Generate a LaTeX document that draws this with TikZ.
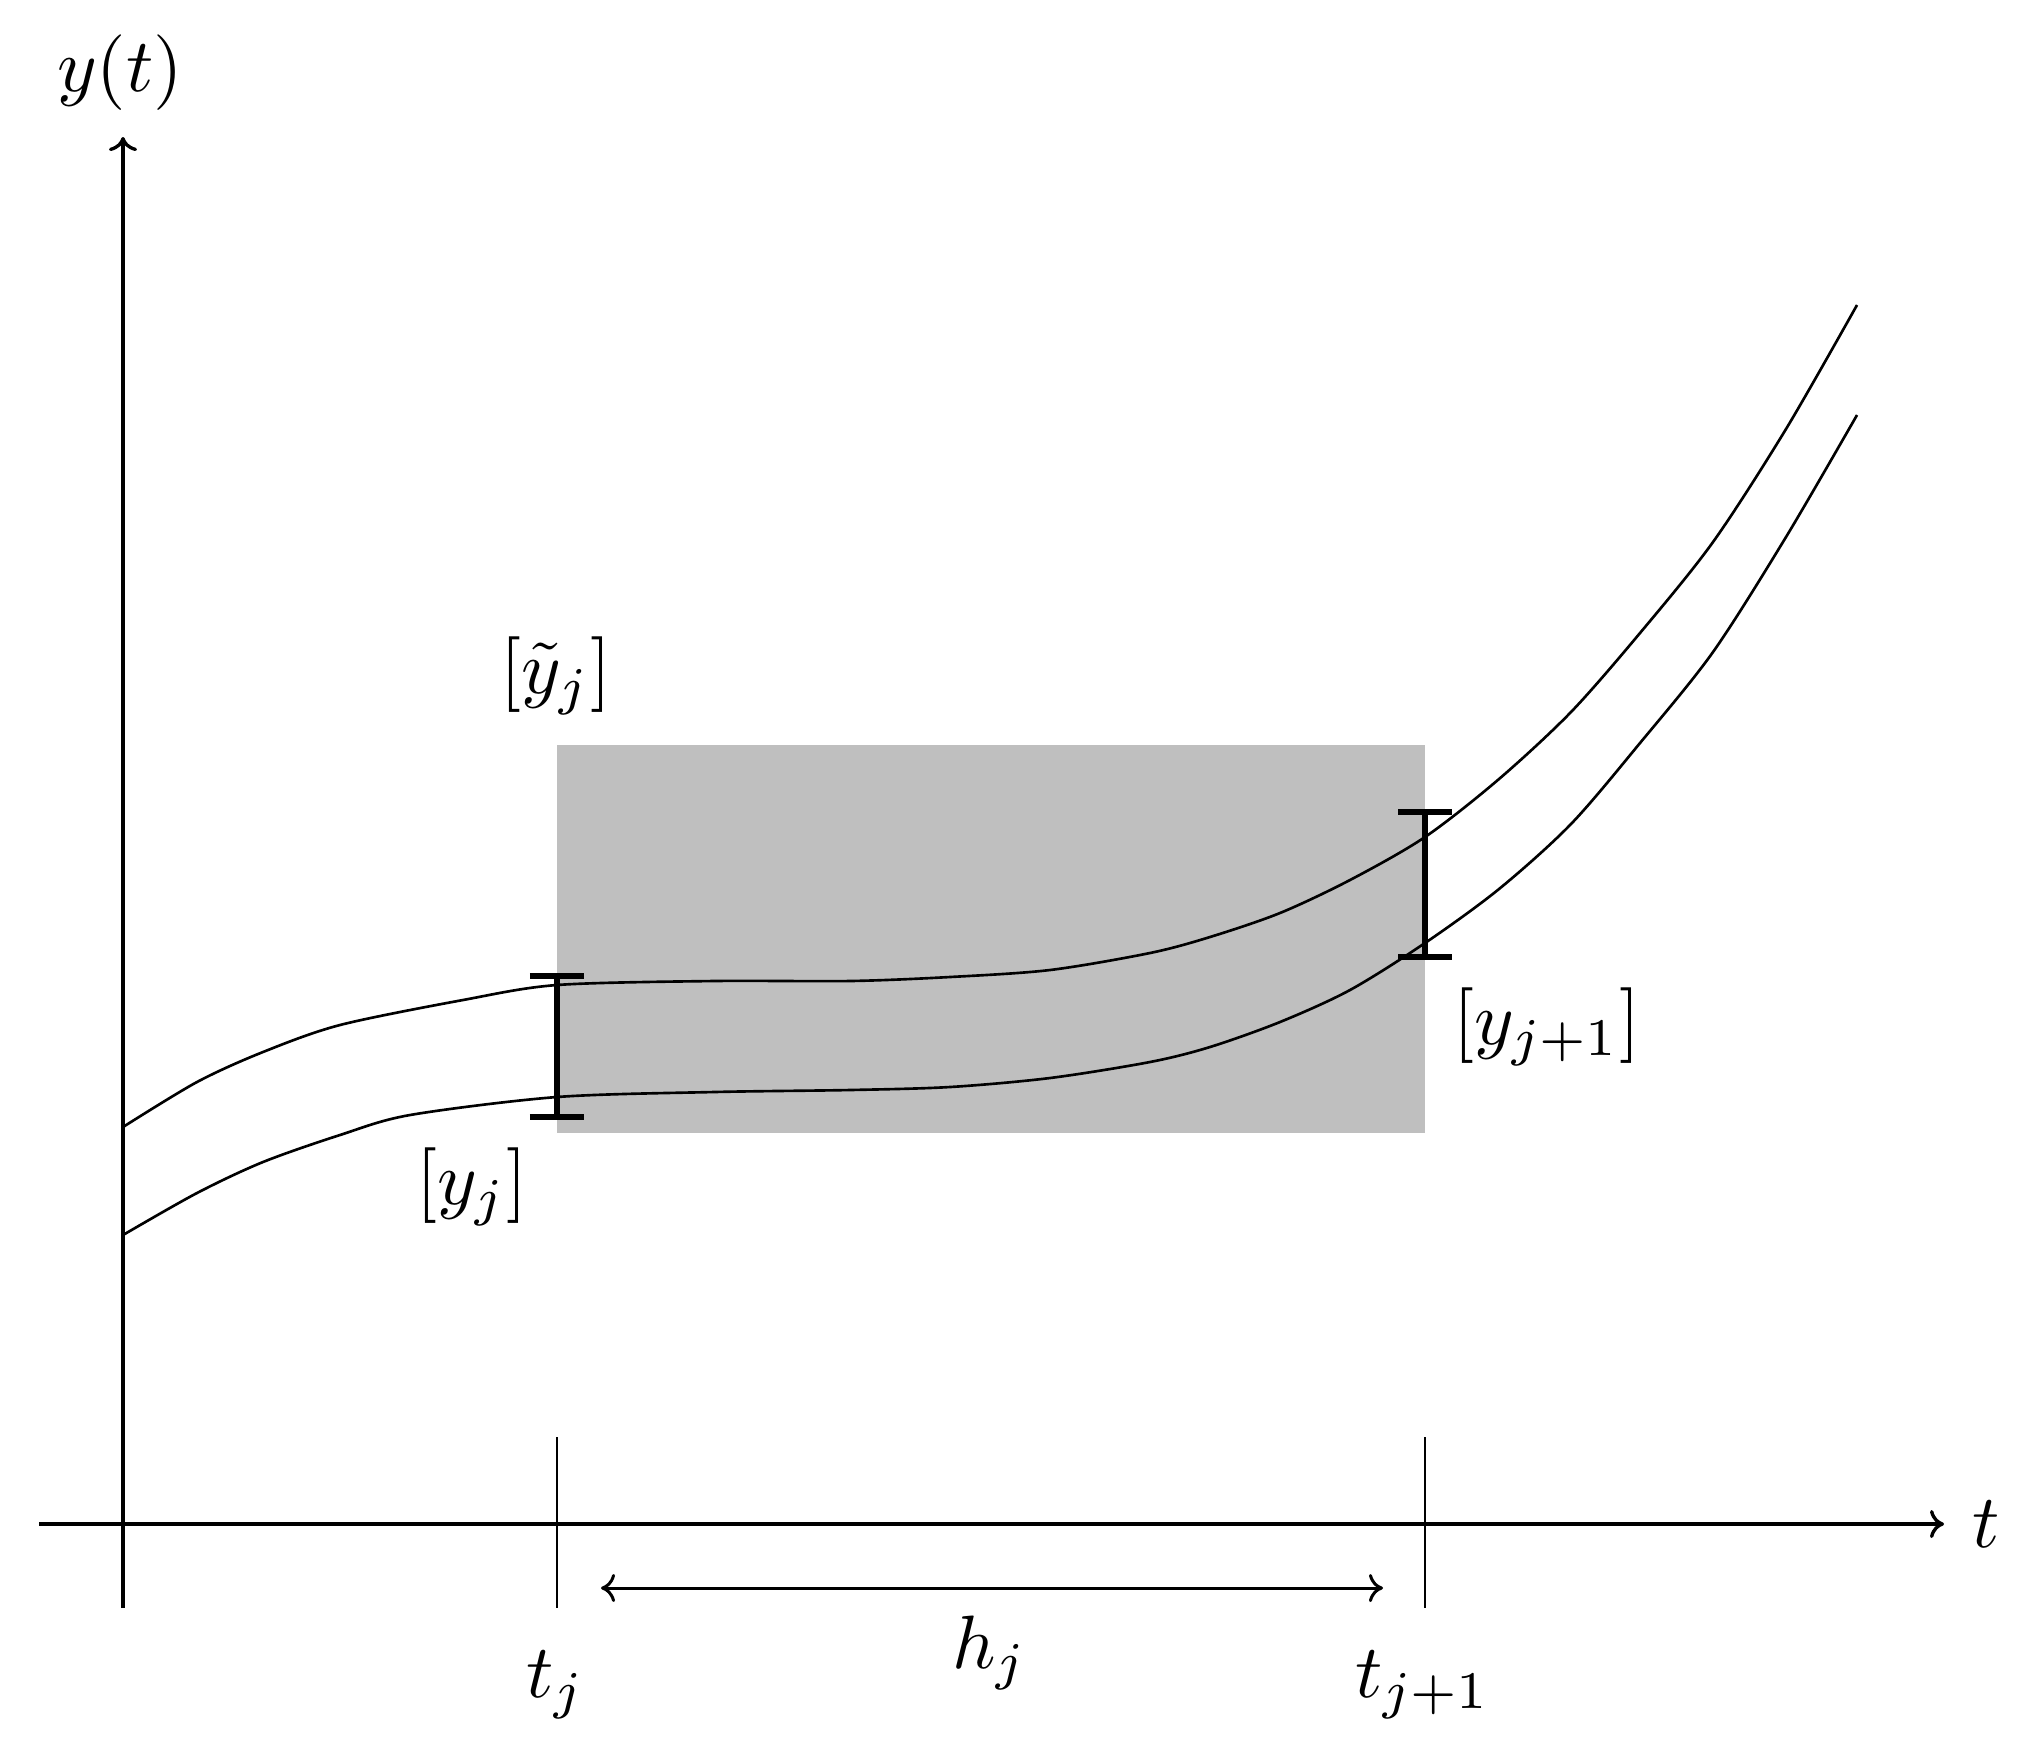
\documentclass[tikz,border=0pt]{standalone}
\usepackage{graphicx}
\usetikzlibrary{arrows.meta}
\newcommand{\lblmath}[1]{\scalebox{2.15}{$#1$}}
\begin{document}
\begin{tikzpicture}[x=0.01cm,y=-0.01cm,
  lbl/.style={inner sep=0pt},
  axis/.style={line width=0.95pt, -{To[length=4pt,width=8pt]}},
  tick/.style={line width=0.6pt},
  curve/.style={line width=0.75pt, line join=round},
  ebar/.style={line width=1.75pt},
  span/.style={line width=0.85pt, {To[length=4pt,width=8pt]}-{To[length=4pt,width=8pt]}}]
\useasboundingbox (0,0) rectangle (2037,1751);
% shaded enclosure
\fill[lightgray] (557,745) rectangle (1425,1133);
% axes
\coordinate (xs) at (39,1524);
\coordinate (xe) at (1944,1524);
\coordinate (ys) at (123,1608);
\coordinate (ye) at (123,137);
\draw[axis] (xs) -- (xe);
\draw[axis] (ys) -- (ye);
% ticks
\coordinate (tja) at (557,1437);
\coordinate (tjb) at (557,1608);
\coordinate (tka) at (1425,1437);
\coordinate (tkb) at (1425,1608);
\draw[tick] (tja) -- (tjb);
\draw[tick] (tka) -- (tkb);
% step arrow
\coordinate (ha) at (601,1588);
\coordinate (hb) at (1383,1588);
\draw[span] (ha) -- (hb);
% curves
\draw[curve] plot[smooth, tension=0.5] coordinates {(123,1127) (197,1082) (263,1052) (340,1025) (463,1000) (557,985) (714,981) (850,981) (950,977) (1050,970) (1150,953) (1210,937) (1280,913) (1350,880) (1425,837) (1499,779) (1571,712) (1640,633) (1713,542) (1786,429) (1857,305)};
\draw[curve] plot[smooth, tension=0.5] coordinates {(123,1235) (197,1193) (263,1162) (340,1135) (410,1115) (557,1097) (714,1092) (850,1090) (950,1087) (1050,1078) (1150,1062) (1210,1047) (1280,1022) (1350,990) (1425,943) (1499,889) (1571,824) (1640,743) (1713,652) (1786,537) (1857,415)};
% error bars
\coordinate (ea) at (557,976);
\coordinate (eb) at (557,1117);
\coordinate (fa) at (1425,812);
\coordinate (fb) at (1425,957);
\draw[ebar] (ea) -- (eb);
\draw[ebar] ([xshift=-0.27cm]ea) -- ([xshift=0.27cm]ea);
\draw[ebar] ([xshift=-0.27cm]eb) -- ([xshift=0.27cm]eb);
\draw[ebar] (fa) -- (fb);
\draw[ebar] ([xshift=-0.27cm]fa) -- ([xshift=0.27cm]fa);
\draw[ebar] ([xshift=-0.27cm]fb) -- ([xshift=0.27cm]fb);
% labels
\node[lbl] (ylab) at (120,73) {\lblmath{y(t)}};
\node[lbl] (tlab) at (1986,1524) {\lblmath{t}};
\node[lbl, anchor=base] (tj) at (556,1697) {\lblmath{t_j}};
\node[lbl, anchor=base] (hj) at (990,1668) {\lblmath{h_j}};
\node[lbl, anchor=base] (tj1) at (1423,1697) {\lblmath{t_{j+1}}};
\node[lbl] (ytil) at (556,676) {\lblmath{[\tilde{y}_j]}};
\node[lbl] (yj) at (472,1187) {\lblmath{[y_j]}};
\node[lbl] (yj1) at (1547,1027) {\lblmath{[y_{j+1}]}};
\end{tikzpicture}
\end{document}
